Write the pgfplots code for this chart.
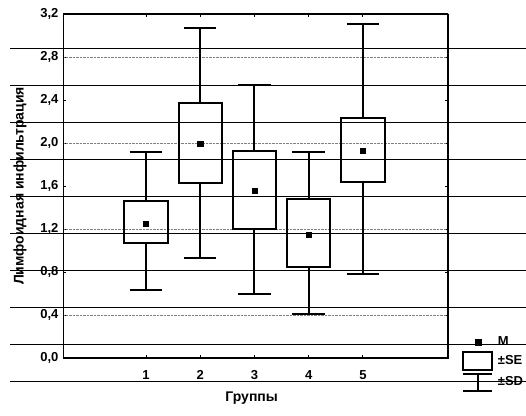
\documentclass[border=0pt]{standalone}
\usepackage{fontspec}
\setmainfont{Liberation Sans}
\usepackage{pgfplots}
\pgfplotsset{compat=1.18}
\usepgfplotslibrary{statistics}
\begin{document}
\begin{tikzpicture}[x=1pt,y=1pt]
\foreach \yy in {367,330,293,256,219,182,145,108,71,34} \draw[line width=0.9pt] (10,\yy) -- (526,\yy);
\begin{axis}[
  at={(63pt,57pt)}, anchor=south west,
  scale only axis, width=385pt, height=344pt,
  xmin=-0.53, xmax=6.57, ymin=0, ymax=3.2,
  xtick={1,2,3,4,5},
  ytick={0,0.4,0.8,1.2,1.6,2.0,2.4,2.8,3.2},
  tick label style={font=\bfseries\fontsize{13}{15}\selectfont},
  /pgf/number format/assume math mode=true,
  yticklabel style={/pgf/number format/fixed, /pgf/number format/fixed zerofill,
    /pgf/number format/precision=1, /pgf/number format/use comma, xshift=-1pt},
  xticklabel style={yshift=-9pt},
  tick style={black, line width=0.8pt},
  major tick length=3pt,
  extra y ticks={0.4,1.2,2.0,2.8},
  extra y tick labels={},
  extra y tick style={grid=major, major grid style={gray, densely dotted, line width=0.7pt}, major tick length=0pt},
  xlabel={Группы},
  ylabel={Лимфоидная инфильтрация},
  every axis x label/.style={at={(axis description cs:0.49,-0.117)}, anchor=center, font=\bfseries\fontsize{14}{16}\selectfont},
  every axis y label/.style={at={(axis description cs:-0.112,0.5)}, rotate=90, anchor=center, font=\bfseries\fontsize{14}{16}\selectfont},
  boxplot/draw direction=y,
  boxplot/box extend=0.8,
  boxplot/whisker extend=0.6,
  legend style={at={(1.029,0.073)}, anchor=north west, draw=none, fill=none,
    font=\bfseries\fontsize{13}{15}\selectfont, row sep=2pt, nodes={inner sep=1.5pt}},
  legend cell align=left,
]
\addplot[forget plot, black, line width=2pt, boxplot prepared={draw position=1, lower whisker=0.63, lower quartile=1.07, median=1.07, upper quartile=1.46, upper whisker=1.92}] coordinates {};
\addplot[forget plot, black, line width=2pt, boxplot prepared={draw position=2, lower whisker=0.93, lower quartile=1.63, median=1.63, upper quartile=2.37, upper whisker=3.07}] coordinates {};
\addplot[forget plot, black, line width=2pt, boxplot prepared={draw position=3, lower whisker=0.60, lower quartile=1.20, median=1.20, upper quartile=1.93, upper whisker=2.54}] coordinates {};
\addplot[forget plot, black, line width=2pt, boxplot prepared={draw position=4, lower whisker=0.41, lower quartile=0.85, median=0.85, upper quartile=1.48, upper whisker=1.92}] coordinates {};
\addplot[forget plot, black, line width=2pt, boxplot prepared={draw position=5, lower whisker=0.78, lower quartile=1.64, median=1.64, upper quartile=2.23, upper whisker=3.11}] coordinates {};
\addplot[forget plot, only marks, mark=square*, mark size=2.6pt, black] coordinates {(1,1.25) (2,1.99) (3,1.56) (4,1.15) (5,1.93)};
\draw[line width=2.2pt] (rel axis cs:0,0) rectangle (rel axis cs:1,1);
\addlegendimage{legend image code/.code={\path (0pt,0pt) (29pt,0pt); \fill[black] (12pt,-3pt) rectangle (18pt,3pt);}}
\addlegendentry{\hspace{3pt}M}
\addlegendimage{legend image code/.code={\draw[black,line width=2pt] (0pt,-9pt) rectangle (29pt,9pt);}}
\addlegendentry{\hspace{3pt}±SE}
\addlegendimage{legend image code/.code={\draw[black,line width=2pt] (0pt,8.5pt)--(29pt,8.5pt) (14.5pt,8.5pt)--(14.5pt,-8.5pt) (0pt,-8.5pt)--(29pt,-8.5pt);}}
\addlegendentry{\hspace{3pt}±SD}
\end{axis}
\pgfresetboundingbox
\useasboundingbox (0,0) rectangle (526,415);
\end{tikzpicture}
\end{document}
